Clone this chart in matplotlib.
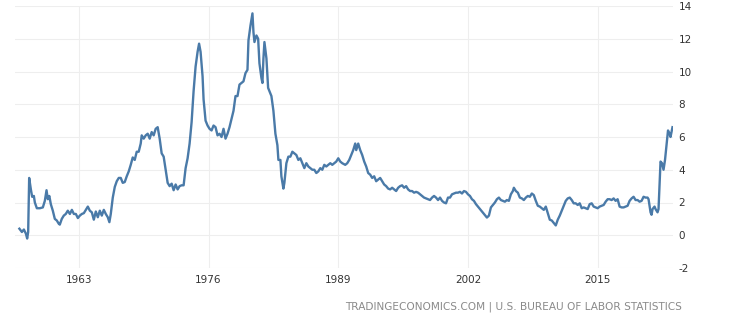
import matplotlib
matplotlib.use("Agg")
import matplotlib.pyplot as plt

plt.rcParams["axes.unicode_minus"] = False

# core inflation, year-on-year %, read as decimal years
years = [
    1957.04, 1957.29, 1957.49, 1957.69, 1957.82, 1957.92, 1958.02, 1958.19, 1958.32, 1958.49,
    1958.59, 1958.79, 1959.09, 1959.39, 1959.59, 1959.76, 1959.89, 1960.04, 1960.19, 1960.39,
    1960.59, 1960.79, 1960.99, 1961.09, 1961.29, 1961.49, 1961.69, 1961.89, 1962.1, 1962.3,
    1962.5, 1962.7, 1962.9, 1963.1, 1963.3, 1963.5, 1963.7, 1963.9, 1964.1, 1964.3,
    1964.5, 1964.7, 1964.9, 1965.1, 1965.3, 1965.5, 1965.7, 1965.9, 1966.06, 1966.2,
    1966.4, 1966.6, 1966.8, 1967.0, 1967.2, 1967.4, 1967.6, 1967.8, 1968.0, 1968.2,
    1968.4, 1968.6, 1968.8, 1969.0, 1969.2, 1969.3, 1969.5, 1969.7, 1969.9, 1970.1,
    1970.3, 1970.5, 1970.7, 1970.9, 1971.1, 1971.3, 1971.5, 1971.7, 1971.9, 1972.1,
    1972.3, 1972.5, 1972.7, 1972.9, 1973.1, 1973.3, 1973.5, 1973.7, 1973.9, 1974.1,
    1974.3, 1974.5, 1974.7, 1974.9, 1975.05, 1975.2, 1975.4, 1975.5, 1975.7, 1975.9,
    1976.1, 1976.3, 1976.5, 1976.7, 1976.9, 1977.1, 1977.3, 1977.5, 1977.7, 1977.9,
    1978.1, 1978.3, 1978.5, 1978.7, 1978.9, 1979.1, 1979.3, 1979.5, 1979.7, 1979.9,
    1980.0, 1980.2, 1980.4, 1980.5, 1980.6, 1980.8, 1980.97, 1981.1, 1981.3, 1981.4,
    1981.5, 1981.6, 1981.8, 1981.97, 1982.1, 1982.3, 1982.5, 1982.7, 1982.9, 1983.0,
    1983.2, 1983.3, 1983.5, 1983.6, 1983.8, 1984.0, 1984.2, 1984.4, 1984.6, 1984.8,
    1985.0, 1985.2, 1985.4, 1985.6, 1985.8, 1986.0, 1986.2, 1986.4, 1986.6, 1986.8,
    1987.0, 1987.2, 1987.4, 1987.6, 1987.8, 1988.0, 1988.2, 1988.4, 1988.6, 1988.8,
    1989.0, 1989.2, 1989.4, 1989.7, 1989.9, 1990.1, 1990.3, 1990.5, 1990.7, 1990.8,
    1991.0, 1991.2, 1991.4, 1991.6, 1991.8, 1992.0, 1992.2, 1992.4, 1992.6, 1992.8,
    1993.0, 1993.2, 1993.4, 1993.6, 1993.8, 1994.0, 1994.2, 1994.4, 1994.6, 1994.8,
    1995.0, 1995.2, 1995.4, 1995.6, 1995.8, 1996.0, 1996.2, 1996.4, 1996.6, 1996.8,
    1997.0, 1997.2, 1997.4, 1997.6, 1997.8, 1998.0, 1998.2, 1998.4, 1998.6, 1998.8,
    1999.0, 1999.2, 1999.4, 1999.6, 1999.8, 2000.0, 2000.2, 2000.4, 2000.6, 2000.8,
    2001.0, 2001.2, 2001.4, 2001.6, 2001.8, 2002.0, 2002.2, 2002.4, 2002.6, 2002.8,
    2003.0, 2003.2, 2003.4, 2003.6, 2003.8, 2003.9, 2004.1, 2004.3, 2004.5, 2004.7,
    2004.9, 2005.1, 2005.3, 2005.5, 2005.7, 2005.9, 2006.1, 2006.3, 2006.5, 2006.6,
    2006.8, 2007.0, 2007.2, 2007.4, 2007.6, 2007.8, 2008.0, 2008.2, 2008.4, 2008.6,
    2008.8, 2009.0, 2009.2, 2009.4, 2009.6, 2009.8, 2010.0, 2010.2, 2010.4, 2010.6,
    2010.8, 2011.0, 2011.2, 2011.4, 2011.6, 2011.8, 2012.0, 2012.2, 2012.4, 2012.6,
    2012.8, 2013.0, 2013.2, 2013.4, 2013.6, 2013.8, 2014.0, 2014.2, 2014.4, 2014.6,
    2014.8, 2015.0, 2015.2, 2015.4, 2015.6, 2015.8, 2016.0, 2016.2, 2016.4, 2016.6,
    2016.8, 2017.0, 2017.2, 2017.4, 2017.6, 2017.8, 2018.0, 2018.2, 2018.4, 2018.6,
    2018.8, 2019.0, 2019.2, 2019.4, 2019.6, 2019.8, 2020.0, 2020.1, 2020.3, 2020.4,
    2020.5, 2020.7, 2020.8, 2021.0, 2021.1, 2021.2, 2021.3, 2021.45, 2021.6, 2021.75,
    2021.9, 2022.05, 2022.2, 2022.3, 2022.5,
]
core_cpi = [
    0.4, 0.2, 0.35, 0.1, -0.2, 0.2, 3.5, 2.8, 2.35, 2.4,
    2.0, 1.65, 1.65, 1.7, 2.1, 2.75, 2.2, 2.4, 1.9, 1.5,
    1.0, 0.9, 0.7, 0.65, 1.0, 1.2, 1.3, 1.5, 1.3, 1.55,
    1.3, 1.3, 1.05, 1.2, 1.3, 1.35, 1.55, 1.75, 1.5, 1.4,
    0.95, 1.45, 1.1, 1.5, 1.2, 1.55, 1.3, 1.1, 0.8, 1.3,
    2.3, 2.95, 3.3, 3.5, 3.5, 3.2, 3.25, 3.6, 3.9, 4.3,
    4.75, 4.6, 5.1, 5.1, 5.6, 6.1, 5.9, 6.1, 6.2, 5.9,
    6.3, 6.1, 6.5, 6.6, 5.9, 5.0, 4.8, 4.0, 3.2, 3.0,
    3.15, 2.75, 3.1, 2.8, 3.0, 3.05, 3.05, 4.1, 4.7, 5.6,
    6.9, 8.8, 10.3, 11.2, 11.7, 11.2, 9.7, 8.3, 7.0, 6.7,
    6.5, 6.4, 6.7, 6.6, 6.1, 6.2, 6.0, 6.5, 5.9, 6.2,
    6.6, 7.1, 7.6, 8.5, 8.5, 9.2, 9.3, 9.4, 9.9, 10.1,
    11.9, 12.8, 13.55, 12.4, 11.8, 12.2, 12.0, 10.5, 9.6, 9.3,
    10.8, 11.8, 10.8, 9.0, 8.8, 8.5, 7.6, 6.2, 5.5, 4.6,
    4.6, 3.6, 2.85, 3.2, 4.4, 4.8, 4.8, 5.1, 5.0, 4.9,
    4.6, 4.7, 4.4, 4.1, 4.4, 4.2, 4.1, 4.0, 4.0, 3.8,
    3.9, 4.1, 4.0, 4.3, 4.2, 4.3, 4.4, 4.3, 4.4, 4.5,
    4.7, 4.5, 4.4, 4.3, 4.4, 4.6, 4.9, 5.2, 5.6, 5.2,
    5.6, 5.2, 4.9, 4.5, 4.2, 3.8, 3.7, 3.5, 3.6, 3.3,
    3.4, 3.5, 3.3, 3.1, 3.0, 2.85, 2.8, 2.9, 2.8, 2.7,
    2.9, 3.0, 3.05, 2.9, 3.0, 2.8, 2.7, 2.7, 2.6, 2.65,
    2.6, 2.5, 2.4, 2.3, 2.25, 2.2, 2.15, 2.3, 2.4, 2.3,
    2.15, 2.3, 2.1, 2.0, 1.95, 2.3, 2.3, 2.5, 2.55, 2.6,
    2.6, 2.65, 2.55, 2.7, 2.65, 2.5, 2.4, 2.2, 2.1, 1.9,
    1.75, 1.6, 1.45, 1.3, 1.15, 1.08, 1.2, 1.7, 1.85, 2.0,
    2.2, 2.3, 2.15, 2.1, 2.05, 2.15, 2.1, 2.5, 2.7, 2.9,
    2.7, 2.6, 2.3, 2.25, 2.15, 2.3, 2.4, 2.35, 2.55, 2.45,
    2.1, 1.8, 1.75, 1.65, 1.55, 1.75, 1.35, 0.95, 0.9, 0.75,
    0.6, 0.95, 1.2, 1.5, 1.8, 2.1, 2.25, 2.3, 2.15, 1.95,
    1.95, 1.85, 1.95, 1.65, 1.7, 1.65, 1.6, 1.9, 1.95, 1.75,
    1.7, 1.65, 1.75, 1.8, 1.85, 2.05, 2.2, 2.2, 2.15, 2.25,
    2.1, 2.2, 1.75, 1.7, 1.7, 1.75, 1.8, 2.1, 2.25, 2.35,
    2.15, 2.15, 2.05, 2.1, 2.35, 2.3, 2.3, 2.2, 1.4, 1.25,
    1.6, 1.75, 1.6, 1.4, 1.6, 3.0, 4.5, 4.4, 4.0, 4.6,
    5.5, 6.4, 6.2, 6.0, 6.6,
]

x_ticks = [1963, 1976, 1989, 2002, 2015]
y_ticks = [-2, 0, 2, 4, 6, 8, 10, 12, 14]

fig = plt.figure(figsize=(7.33, 3.24), dpi=100)
ax = fig.add_axes([15 / 733, 1 - 268 / 324, 658 / 733, 262 / 324])

ax.plot(years, core_cpi, color="#4a7aa8", lw=1.7, solid_joinstyle="round")

ax.set_xlim(1956.6, 2022.55)
ax.set_ylim(-2, 14)
ax.set_xticks(x_ticks)
ax.set_yticks(y_ticks)
ax.yaxis.tick_right()
ax.tick_params(length=0, labelsize=7.5, colors="#333333")
ax.tick_params(axis="y", pad=4)
ax.tick_params(axis="x", pad=5)
ax.grid(True, color="#eeeeee", lw=0.8)
ax.set_axisbelow(True)
for s in ax.spines.values():
    s.set_visible(False)

fig.text(682 / 733, 1 - 307 / 324, "TRADINGECONOMICS.COM | U.S. BUREAU OF LABOR STATISTICS",
         ha="right", va="center", fontsize=7.6, color="#8a8a8a")

fig.savefig("out.png", dpi=100)
